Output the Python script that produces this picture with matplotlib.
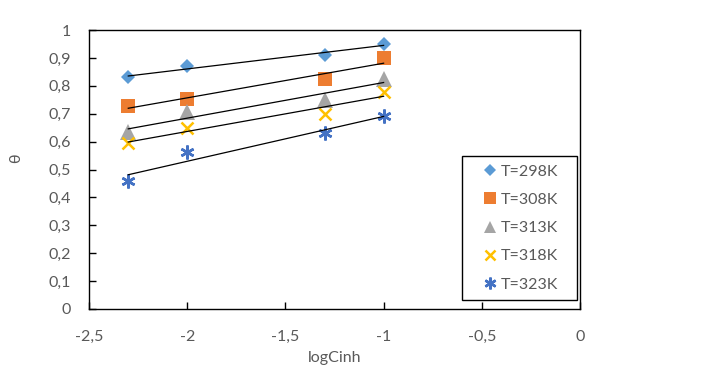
import numpy as np
import matplotlib
matplotlib.use("Agg")
import matplotlib.pyplot as plt
from matplotlib.patches import Rectangle

log_cinh = [-2.3, -2.0, -1.3, -1.0]
theta_298 = [0.830, 0.870, 0.910, 0.950]
theta_308 = [0.728, 0.752, 0.823, 0.898]
theta_313 = [0.635, 0.705, 0.750, 0.825]
theta_318 = [0.594, 0.650, 0.699, 0.779]
theta_323 = [0.459, 0.562, 0.630, 0.692]
labels = ["T=298K", "T=308K", "T=313K", "T=318K", "T=323K"]

x_ticks = [-2.5, -2.0, -1.5, -1.0, -0.5, 0.0]
x_tick_labels = ["-2,5", "-2", "-1,5", "-1", "-0,5", "0"]
y_ticks = [0, 0.1, 0.2, 0.3, 0.4, 0.5, 0.6, 0.7, 0.8, 0.9, 1.0]
y_tick_labels = ["0", "0,1", "0,2", "0,3", "0,4", "0,5", "0,6", "0,7", "0,8", "0,9", "1"]

plt.rcParams['font.family'] = ['Lato', 'DejaVu Sans']
txt = "#595959"
fs = 11.5

fig = plt.figure(figsize=(7.04, 3.71), dpi=100)
ax = fig.add_axes([89/704, 1-309/371, 491/704, 279/371])

series = [theta_298, theta_308, theta_313, theta_318, theta_323]
colors = ["#5B9BD5", "#ED7D31", "#A5A5A5", "#FFC000", "#4472C4"]
markers = ["D", "s", "^", "x", (6, 2, 0)]
sizes = [7.5, 10, 11, 9, 10]
mews = [0, 0, 0, 1.8, 1.8]

x = np.array(log_cinh)
handles = []
for ys, c, m, s, mw, lab in zip(series, colors, markers, sizes, mews, labels):
    ys = np.array(ys)
    h, = ax.plot(x, ys, linestyle="none", marker=m, markersize=s, color=c,
                 markeredgewidth=mw, label=lab, zorder=2)
    handles.append(h)
    k, b = np.polyfit(x, ys, 1)
    xx = np.array([x.min(), x.max()])
    ax.plot(xx, k*xx + b, color="black", linewidth=0.9, zorder=3)

ax.set_xlim(-2.5, 0)
ax.set_ylim(0, 1)
ax.set_xticks(x_ticks)
ax.set_xticklabels(x_tick_labels)
ax.set_yticks(y_ticks)
ax.set_yticklabels(y_tick_labels)
ax.tick_params(direction="in", length=5, width=1, colors="black",
               labelcolor=txt, labelsize=fs)
ax.tick_params(axis="x", pad=15)
ax.tick_params(axis="y", pad=13)
for sp in ax.spines.values():
    sp.set_color("black")
    sp.set_linewidth(1)

ax.set_xlabel("logCinh", color=txt, fontsize=fs)
ax.xaxis.set_label_coords(0.5, -0.15)
ax.set_ylabel("θ", color=txt, fontsize=fs)
ax.yaxis.set_label_coords(-0.135, 0.54)

# legend box frame (pixel extents of the reference legend)
bx0, bx1, by0, by1 = 462, 577, 156, 300
ax_l, ax_b, ax_w, ax_h = 89, 309, 491, 279
rx = (bx0 - ax_l) / ax_w
ry = (ax_b - by1) / ax_h
rw = (bx1 - bx0) / ax_w
rh = (by1 - by0) / ax_h
ax.add_patch(Rectangle((rx, ry), rw, rh, transform=ax.transAxes, fill=True,
                       facecolor="white", edgecolor="black", linewidth=1,
                       zorder=4))

leg = ax.legend(handles=handles, loc="center",
                bbox_to_anchor=(rx + rw/2 + 0.002, ry + rh/2), frameon=False,
                fontsize=fs, labelspacing=0.88,
                handlelength=0.9, handletextpad=0.25, borderpad=0.3,
                borderaxespad=0, markerscale=0.85)
leg.set_zorder(5)
for t in leg.get_texts():
    t.set_color(txt)

fig.savefig("out.png", dpi=100)
